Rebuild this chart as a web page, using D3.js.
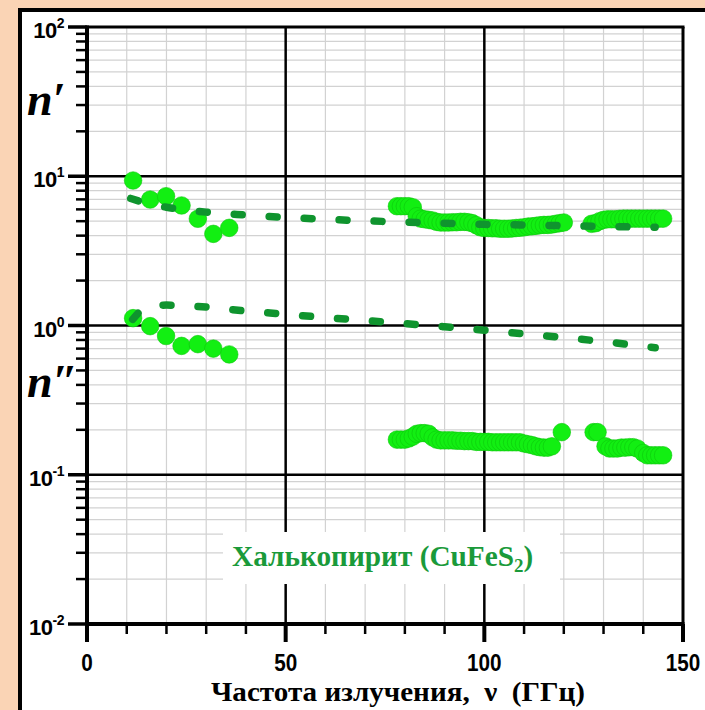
<!DOCTYPE html>
<html><head><meta charset="utf-8">
<script src="https://cdn.jsdelivr.net/npm/d3@7"></script>
<style>html,body{margin:0;padding:0;background:#fad4b5;overflow:hidden}</style>
</head><body>
<svg id="c" width="705" height="710"></svg>
<script>
// ---- data ----
const lowFreq = [11.6, 15.9, 19.9, 23.8, 27.9, 31.8, 35.8];
const lowNReal = [9.36, 6.98, 7.35, 6.37, 5.19, 4.11, 4.51];
const lowNImag = [1.12, 0.99, 0.85, 0.73, 0.75, 0.70, 0.64];

const highRealFreq = [78,79,80,81,82,83,84,85,86,87,88,89,90,91,92,93,94,95,96,97,98,99,100,101,102,103,104,105,106,107,108,109,110,111,112,113,114,115,116,117,118,119,120,127,128,129,130,131,132,133,134,135,136,137,138,139,140,141,142,143,144,145];
const highNReal = [6.3,6.3,6.3,6.3,6.2,5.4,5.2,5.15,5.1,5.05,4.95,4.9,4.9,4.9,4.92,4.92,4.95,4.95,4.92,4.85,4.7,4.55,4.5,4.5,4.48,4.48,4.45,4.45,4.45,4.47,4.5,4.52,4.55,4.6,4.62,4.65,4.7,4.72,4.72,4.75,4.8,4.85,4.9,4.8,4.85,5.0,5.1,5.15,5.15,5.15,5.18,5.2,5.2,5.2,5.2,5.2,5.2,5.2,5.2,5.2,5.2,5.2];

const highImagFreq = [78,79,80,81,82,83,84,85,86,87,88,89,90,91,92,93,94,95,96,97,98,99,100,101,102,103,104,105,106,107,108,109,110,111,112,113,114,115,116,117,119.5,127.5,128.5,130.5,131.5,132.5,133.5,134.5,135.5,136.5,137.5,138.5,140,141,142,143,144,145];
const highNImag = [0.172,0.172,0.172,0.175,0.18,0.188,0.19,0.19,0.188,0.178,0.172,0.17,0.17,0.17,0.17,0.169,0.169,0.168,0.168,0.168,0.166,0.166,0.166,0.166,0.165,0.165,0.165,0.165,0.165,0.165,0.165,0.165,0.162,0.16,0.158,0.155,0.153,0.152,0.152,0.155,0.193,0.193,0.193,0.155,0.15,0.15,0.15,0.152,0.152,0.153,0.153,0.15,0.14,0.135,0.135,0.135,0.135,0.135];

const fitRealFreq = [11,15,20,25,30,40,50,60,70,80,90,100,110,120,130,143];
const fitNReal = [7.1,6.6,6.2,5.95,5.75,5.5,5.3,5.15,5.03,4.93,4.85,4.76,4.72,4.66,4.61,4.55];
const fitImagFreq = [11.5,14,17,20,30,40,50,60,70,80,90,100,110,120,130,143];
const fitNImag = [1.1,1.28,1.35,1.37,1.33,1.25,1.19,1.13,1.08,1.03,0.98,0.93,0.88,0.83,0.78,0.71];

const xTicks = [0, 50, 100, 150];
const yTickExps = [2, 1, 0, -1, -2];

// ---- drawing ----
const svg = d3.select("#c");
const L = 87, R = 683, T = 27, B = 624;
const x = d3.scaleLinear().domain([0,150]).range([L,R]);
const y = d3.scaleLog().domain([0.01,100]).range([B,T]);

// frame
svg.append("rect").attr("x",20).attr("y",10).attr("width",740).attr("height",740)
  .attr("fill","#fff").attr("stroke","#000").attr("stroke-width",4);

const g = svg.append("g");
const minorX = d3.range(10,150,10).filter(v=>v%50!==0);
g.selectAll(".mgx").data(minorX).enter().append("line")
  .attr("x1",d=>x(d)).attr("x2",d=>x(d)).attr("y1",T).attr("y2",B)
  .attr("stroke","#d2d2d2").attr("stroke-width",1.2);
const minorY = [];
[-2,-1,0,1].forEach(e=>{for(let k=2;k<=9;k++) minorY.push(k*Math.pow(10,e));});
g.selectAll(".mgy").data(minorY).enter().append("line")
  .attr("x1",L).attr("x2",R).attr("y1",d=>y(d)).attr("y2",d=>y(d))
  .attr("stroke","#d2d2d2").attr("stroke-width",1.2);
g.selectAll(".Mgx").data([50,100]).enter().append("line")
  .attr("x1",d=>x(d)).attr("x2",d=>x(d)).attr("y1",T).attr("y2",B)
  .attr("stroke","#000").attr("stroke-width",2.5);
g.selectAll(".Mgy").data([0.1,1,10]).enter().append("line")
  .attr("x1",L).attr("x2",R).attr("y1",d=>y(d)).attr("y2",d=>y(d))
  .attr("stroke","#000").attr("stroke-width",2.5);

const serif = "'Liberation Serif','Times New Roman',serif";
const sans = "'Liberation Sans',Arial,sans-serif";

// label box
svg.append("rect").attr("x",223).attr("y",532).attr("width",337).attr("height",52).attr("fill","#fff");
const lab = svg.append("text").attr("x",232).attr("y",566)
  .attr("font-family",serif).attr("font-weight","bold")
  .attr("font-size",29).attr("fill","#1a9a3a");
lab.append("tspan").attr("textLength",282).attr("lengthAdjust","spacingAndGlyphs").text("Халькопирит (CuFeS");
lab.append("tspan").attr("font-size",19).attr("dy",6).text("2");
lab.append("tspan").attr("dy",-6).text(")");

// borders
svg.append("line").attr("x1",L).attr("x2",R+1.5).attr("y1",T).attr("y2",T).attr("stroke","#000").attr("stroke-width",3);
svg.append("line").attr("x1",R).attr("x2",R).attr("y1",T).attr("y2",B).attr("stroke","#000").attr("stroke-width",3);
svg.append("line").attr("x1",L).attr("x2",L).attr("y1",T-1.5).attr("y2",B+2).attr("stroke","#000").attr("stroke-width",4);
svg.append("line").attr("x1",L-2).attr("x2",R+1.5).attr("y1",B).attr("y2",B).attr("stroke","#000").attr("stroke-width",4);

// y ticks
svg.selectAll(".ytM").data(yTickExps).enter().append("line")
  .attr("x1",L-19).attr("x2",L).attr("y1",d=>y(Math.pow(10,d))).attr("y2",d=>y(Math.pow(10,d)))
  .attr("stroke","#000").attr("stroke-width",3.5);
svg.selectAll(".ytm").data(minorY).enter().append("line")
  .attr("x1",L-11).attr("x2",L).attr("y1",d=>y(d)).attr("y2",d=>y(d))
  .attr("stroke","#000").attr("stroke-width",2.5);
// x ticks
svg.selectAll(".xtm").data(minorX).enter().append("line")
  .attr("x1",d=>x(d)).attr("x2",d=>x(d)).attr("y1",B).attr("y2",B+10)
  .attr("stroke","#000").attr("stroke-width",2.5);
svg.selectAll(".xtM").data(xTicks).enter().append("line")
  .attr("x1",d=>x(d)).attr("x2",d=>x(d)).attr("y1",B).attr("y2",B+18)
  .attr("stroke","#000").attr("stroke-width",4);

svg.selectAll(".xl").data(xTicks).enter().append("text")
  .attr("x",d=>x(d)).attr("y",671).attr("text-anchor","middle")
  .attr("font-family",sans).attr("font-weight","bold").attr("font-size",23)
  .attr("transform",d=>`translate(${x(d)},671) scale(0.9,1) translate(${-x(d)},-671)`).text(d=>d);
const yl = svg.selectAll(".yl").data(yTickExps).enter().append("text")
  .attr("x",64).attr("y",d=>y(Math.pow(10,d))+11).attr("text-anchor","end")
  .attr("font-family",sans).attr("font-weight","bold").attr("font-size",22)
  .attr("letter-spacing",-0.5);
yl.append("tspan").text("10");
yl.append("tspan").attr("font-size",14).attr("dy",-10).text(d=>d);

// n labels
svg.append("text").attr("x",27).attr("y",115).attr("font-family",serif).attr("font-style","italic")
  .attr("font-weight","bold").attr("font-size",46).text("n′");
svg.append("text").attr("x",27).attr("y",397).attr("font-family",serif).attr("font-style","italic")
  .attr("font-weight","bold").attr("font-size",46).text("n″");

// x title
svg.append("text").attr("x",211).attr("y",701).style("white-space","pre")
  .attr("font-family",serif).attr("font-weight","bold").attr("font-size",28)
  .attr("textLength",374).attr("lengthAdjust","spacingAndGlyphs")
  .text("Частота излучения,  ν  (ГГц)");

// points
function dots(xs, ys){
  svg.append("g").selectAll("circle").data(xs.map((v,i)=>[v,ys[i]])).enter().append("circle")
    .attr("cx",d=>x(d[0])).attr("cy",d=>y(d[1])).attr("r",8.8)
    .attr("fill","#12ef12").attr("stroke","#0cc80c").attr("stroke-width",0.6);
}
dots(lowFreq, lowNReal);
dots(lowFreq, lowNImag);
dots(highRealFreq, highNReal);
dots(highImagFreq, highNImag);

// fit lines
const line = d3.line().x(d=>x(d[0])).y(d=>y(d[1])).curve(d3.curveMonotoneX);
function fit(xs, ys){
  svg.append("path").attr("d", line(xs.map((v,i)=>[v,ys[i]])))
    .attr("fill","none").attr("stroke","#0f942e").attr("stroke-width",7.5)
    .attr("stroke-linecap","round").attr("stroke-dasharray","8,27");
}
fit(fitRealFreq, fitNReal);
fit(fitImagFreq, fitNImag);
</script>
</body></html>
